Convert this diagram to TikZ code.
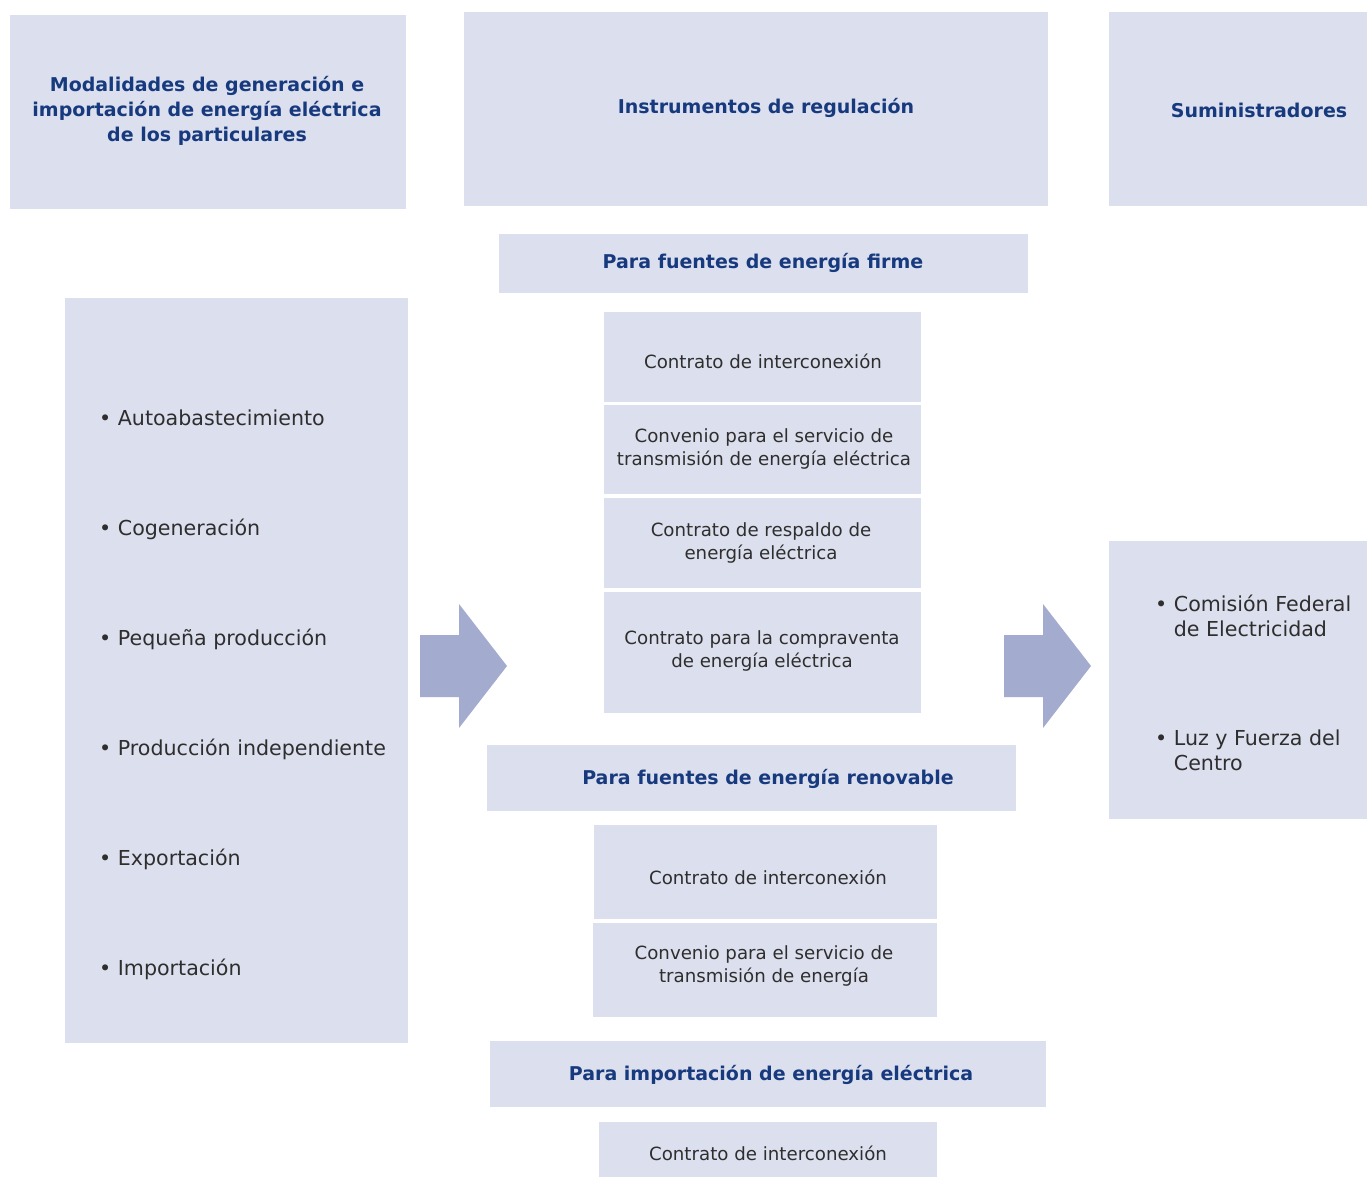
\documentclass[tikz,border=0pt]{standalone}
\usepackage{fontspec}
\setmainfont{DejaVu Sans}
\definecolor{boxc}{HTML}{DCDFED}
\definecolor{arrc}{HTML}{A3ABCF}
\definecolor{titc}{HTML}{173A7E}
\definecolor{txtc}{HTML}{2E2E2E}
\tikzset{
  panel/.style={fill=boxc, draw=none, inner sep=0pt},
  ttl/.style={text=titc, font=\fontsize{19}{25}\selectfont\bfseries, align=center, inner sep=0pt},
  bodytxt/.style={text=txtc, font=\fontsize{18.2}{23}\selectfont, align=center, inner sep=0pt},
  listtxt/.style={text=txtc, font=\fontsize{20.6}{25}\selectfont, align=left, inner sep=0pt, anchor=west},
  blockarrow/.style={fill=arrc, draw=none}
}
\newcommand{\panelbox}[5]{% name, x1, y1, x2, y2
  \path[panel] (#2,#3) rectangle (#4,#5);
  \coordinate (#1) at ({(#2+#4)/2},{(#3+#5)/2});}
\begin{document}
\begin{tikzpicture}[x=1pt,y=-1pt]
\useasboundingbox (0,0) rectangle (1367,1177);
% header panels
\panelbox{hA}{10}{15}{406}{209}
\panelbox{hB}{464}{12}{1048}{206}
\panelbox{hC}{1109}{12}{1367}{206}
\node[ttl] (tA) at (207,111) {Modalidades de generación e\\importación de energía eléctrica\\de los particulares};
\node[ttl] (tB) at (766,108) {Instrumentos de regulación};
\node[ttl] (tC) at (1259,110) {Suministradores};
% left list
\panelbox{L}{65}{298}{408}{1043}
\node[listtxt] (l1) at (99,418) {• Autoabastecimiento};
\node[listtxt] (l2) at (99,529) {• Cogeneración};
\node[listtxt] (l3) at (99,639) {• Pequeña producción};
\node[listtxt] (l4) at (99,749) {• Producción independiente};
\node[listtxt] (l5) at (99,859) {• Exportación};
\node[listtxt] (l6) at (99,969) {• Importación};
% firme
\panelbox{fH}{499}{234}{1028}{293}
\node[ttl] (fHt) at (763,263) {Para fuentes de energía firme};
\panelbox{f1}{604}{312}{921}{402}
\panelbox{f2}{604}{405}{921}{494}
\panelbox{f3}{604}{498}{921}{588}
\panelbox{f4}{604}{592}{921}{713}
\node[bodytxt] (f1t) at (763,361) {Contrato de interconexión};
\node[bodytxt] (f2t) at (764,449) {Convenio para el servicio de\\transmisión de energía eléctrica};
\node[bodytxt] (f3t) at (761,543) {Contrato de respaldo de\\energía eléctrica};
\node[bodytxt] (f4t) at (762,651) {Contrato para la compraventa\\de energía eléctrica};
% renovable
\panelbox{rH}{487}{745}{1016}{811}
\node[ttl] (rHt) at (768,779) {Para fuentes de energía renovable};
\panelbox{r1}{594}{825}{937}{919}
\panelbox{r2}{593}{923}{937}{1017}
\node[bodytxt] (r1t) at (768,877) {Contrato de interconexión};
\node[bodytxt] (r2t) at (764,966) {Convenio para el servicio de\\transmisión de energía};
% importacion
\panelbox{iH}{490}{1041}{1046}{1107}
\node[ttl] (iHt) at (771,1075) {Para importación de energía eléctrica};
\panelbox{i1}{599}{1122}{937}{1177}
\node[bodytxt] (i1t) at (768,1153) {Contrato de interconexión};
% suministradores
\panelbox{S}{1109}{541}{1367}{819}
\node[listtxt] (s1) at (1155,616) {• Comisión Federal\\\phantom{• }de Electricidad};
\node[listtxt] (s2) at (1155,750) {• Luz y Fuerza del\\\phantom{• }Centro};
% block arrows
\fill[blockarrow] (420,635) -- (459,635) -- (459,604) -- (507,666) -- (459,728) -- (459,697) -- (420,697) -- cycle;
\fill[blockarrow] (1004,635) -- (1043,635) -- (1043,604) -- (1091,666) -- (1043,728) -- (1043,697) -- (1004,697) -- cycle;
\end{tikzpicture}
\end{document}
